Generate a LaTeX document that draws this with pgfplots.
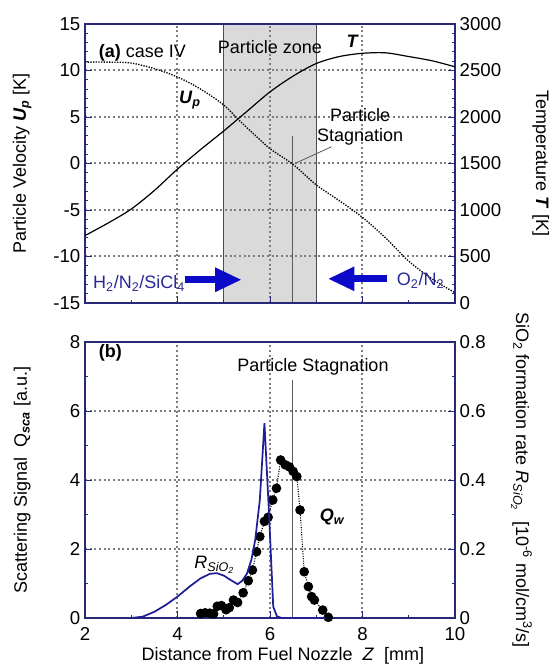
\documentclass[border=0pt]{standalone}
\usepackage{fontspec}
\setmainfont{Liberation Sans}
\usepackage{pgfplots}
\pgfplotsset{compat=1.18}
\usetikzlibrary{arrows.meta}

\definecolor{axisnavy}{RGB}{40,40,120}
\definecolor{curveblue}{RGB}{30,30,150}
\definecolor{arrowblue}{RGB}{10,10,200}
\definecolor{textnavy}{RGB}{40,40,150}
\definecolor{zonegray}{RGB}{218,218,218}
\definecolor{gridgray}{RGB}{125,125,125}

\pgfplotsset{
  base/.style={
    width=277.5pt, scale only axis, xmin=2, xmax=10,
    axis line style={axisnavy, line width=0.9pt},
    tick style={axisnavy, line width=0.6pt},
    tick align=inside, major tick length=5pt, minor tick length=2.5pt,
    /pgf/number format/assume math mode=true,
    /pgf/number format/1000 sep={},
    scaled y ticks=false,
    tick label style={font=\fontsize{14}{16}\selectfont},
    label style={font=\fontsize{13.5}{16}\selectfont},
  },
}
\tikzset{gridline/.style={gridgray, line width=1.5pt, dash pattern=on 1.5pt off 2pt}}

% top panel data
\pgfplotstableread{
x U
2.0 10.9
2.5 10.9
3.0 10.8
3.5 10.2
4.0 9.3
4.5 8.0
5.0 6.3
5.3 4.8
5.6 3.4
6.0 1.6
6.5 -0.1
7.0 -2.3
7.5 -4.0
8.0 -5.8
8.5 -8.0
9.0 -10.5
9.5 -12.4
10.0 -13.9
}\uptable

\pgfplotstableread{
x T
2.0 725
2.5 860
3.0 1010
3.5 1210
4.0 1440
4.5 1650
5.0 1850
5.5 2060
6.0 2270
6.5 2440
7.0 2575
7.5 2650
8.0 2685
8.5 2690
9.0 2650
9.5 2605
10.0 2540
}\ttable

\begin{document}
\begin{tikzpicture}
\path[use as bounding box] (-63.75pt,-35.25pt) rectangle (348.75pt,463.5pt);

% ---------- (a) left axis: particle velocity
\begin{axis}[base, at={(0,236.25pt)}, anchor=south west, height=209.25pt,
  ymin=-15, ymax=15, ytick={-15,-10,...,15}, minor y tick num=4,
  xtick={2,4,...,10}, minor x tick num=1, xticklabels={},
  xtick pos=bottom, ytick pos=left, axis on top,
  ylabel={Particle Velocity \textbf{\textit{U}\textsubscript{\textit{p}}} [K]},
  ylabel style={at={(axis description cs:-0.17,0.5)}, anchor=center},
]
\filldraw[fill=zonegray, draw=gray!60!black, line width=0.9pt]
  (axis cs:5,-15) rectangle (axis cs:7,15);
\draw[gridline] (axis cs:4,-15) -- (axis cs:4,15);
\draw[gridline] (axis cs:6,-15) -- (axis cs:6,15);
\draw[gridline] (axis cs:8,-15) -- (axis cs:8,15);
\draw[gridline] (axis cs:2,-10) -- (axis cs:10,-10);
\draw[gridline] (axis cs:2,-5) -- (axis cs:10,-5);
\draw[gridline] (axis cs:2,0) -- (axis cs:10,0);
\draw[gridline] (axis cs:2,5) -- (axis cs:10,5);
\draw[gridline] (axis cs:2,10) -- (axis cs:10,10);
\draw[gray!70!black, line width=0.8pt] (axis cs:6.48,-15) -- (axis cs:6.48,3);
\draw[gray!70!black, line width=0.6pt] (axis cs:6.54,0) -- (axis cs:7.33,1.8);
\addplot[black, densely dotted, line width=1pt, smooth] table[x=x, y=U] {\uptable};
\node[anchor=west, font=\fontsize{13.5}{16}\selectfont] at (axis cs:2.2,11.9) {\textbf{(a)} case IV};
\node[font=\fontsize{13.5}{16}\selectfont] at (axis cs:6,12.5) {Particle zone};
\node[font=\fontsize{13.5}{16}\selectfont] at (axis cs:4.27,6.8) {\textbf{\textit{U}\textsubscript{\textit{p}}}};
\node[font=\fontsize{13.5}{16}\selectfont] at (axis cs:7.79,13.1) {\textbf{\textit{T}}};
\node[align=center, font=\fontsize{13.5}{15}\selectfont, inner sep=0pt] at (axis cs:7.95,3.95) {Particle\\Stagnation};
\draw[arrowblue, line width=5.5pt, -{Triangle[length=20pt, width=17pt]}]
  (axis cs:4.16,-12.5) -- (axis cs:5.39,-12.5);
\draw[arrowblue, line width=5.5pt, -{Triangle[length=20pt, width=17pt]}]
  (axis cs:8.52,-12.4) -- (axis cs:7.25,-12.4);
\node[anchor=west, textnavy, font=\fontsize{13.5}{16}\selectfont, inner sep=0pt] at (axis cs:2.17,-12.9)
  {H\textsubscript{2}/N\textsubscript{2}/SiCl\textsubscript{4}};
\node[anchor=west, textnavy, font=\fontsize{13.5}{16}\selectfont, inner sep=0pt] at (axis cs:8.74,-12.6)
  {O\textsubscript{2}/N\textsubscript{2}};
\end{axis}

% ---------- (a) right axis: temperature
\begin{axis}[base, at={(0,236.25pt)}, anchor=south west, height=209.25pt,
  axis y line*=right, axis x line=none,
  ymin=0, ymax=3000, ytick={0,500,...,3000}, minor y tick num=4,
  ylabel={Temperature \textbf{\textit{T}} [K]},
  ylabel style={at={(axis description cs:1.232,0.5)}, anchor=center, rotate=180},
]
\addplot[black, line width=0.9pt, smooth] table[x=x, y=T] {\ttable};
\end{axis}

% ---------- (b) left axis: scattering signal
\begin{axis}[base, at={(0,0)}, anchor=south west, height=207pt,
  ymin=0, ymax=8, ytick={0,2,...,8}, minor y tick num=1,
  xtick={2,4,...,10}, minor x tick num=1,
  xticklabel style={yshift=-3.5pt},
  xtick pos=bottom, ytick pos=left, axis on top,
  xlabel={Distance from Fuel Nozzle \ \textit{Z} \ [mm]},
  xlabel style={at={(axis description cs:0.535,-0.138)}, anchor=center},
  ylabel={Scattering Signal \ Q\textsubscript{\textbf{\textit{sca}}} [a.u.]},
  ylabel style={at={(axis description cs:-0.17,0.5)}, anchor=center},
]
\draw[gridline] (axis cs:4,0) -- (axis cs:4,8);
\draw[gridline] (axis cs:6,0) -- (axis cs:6,8);
\draw[gridline] (axis cs:8,0) -- (axis cs:8,8);
\draw[gridline] (axis cs:2,2) -- (axis cs:10,2);
\draw[gridline] (axis cs:2,4) -- (axis cs:10,4);
\draw[gridline] (axis cs:2,6) -- (axis cs:10,6);
\draw[gray!70!black, line width=0.8pt] (axis cs:6.48,0) -- (axis cs:6.48,6.9);
\addplot[black, densely dotted, line width=0.8pt, mark=*, mark size=3.2pt, mark options={solid}]
coordinates {
(4.50,0.13) (4.60,0.15) (4.70,0.14) (4.78,0.12) (4.86,0.34) (4.95,0.36)
(5.05,0.24) (5.12,0.30) (5.21,0.52) (5.30,0.45) (5.42,0.73) (5.53,1.08)
(5.62,1.39) (5.71,1.92) (5.78,2.36) (5.88,2.80) (5.96,2.92) (6.06,3.42)
(6.14,3.76) (6.23,4.58) (6.33,4.44) (6.42,4.38) (6.50,4.25) (6.58,4.10)
(6.65,3.13) (6.74,1.34) (6.83,0.91) (6.90,0.62) (6.96,0.52) (7.14,0.23)
(7.26,0.02)
};
\node[anchor=west, font=\fontsize{13.5}{16}\selectfont] at (axis cs:2.2,7.68) {\textbf{(b)}};
\node[font=\fontsize{13.5}{16}\selectfont] at (axis cs:6.93,7.28) {Particle Stagnation};
\node[font=\fontsize{13.5}{16}\selectfont] at (axis cs:4.8,1.55)
  {\textit{R}\textsubscript{\textit{SiO\textsubscript{2}}}};
\node[font=\fontsize{13.5}{16}\selectfont] at (axis cs:7.35,2.93)
  {\textbf{\textit{Q}\textsubscript{\textit{w}}}};
\end{axis}

% ---------- (b) right axis: SiO2 formation rate
\begin{axis}[base, at={(0,0)}, anchor=south west, height=207pt,
  axis y line*=right, axis x line=none,
  ymin=0, ymax=0.8, ytick={0,0.2,0.4,0.6,0.8}, minor y tick num=1,
  ylabel={SiO\textsubscript{2} formation rate \textit{R}\textsubscript{\textit{SiO\textsubscript{2}}} \ [10\textsuperscript{-6} mol/cm\textsuperscript{3}/s]},
  ylabel style={at={(axis description cs:1.18,0.5)}, anchor=center, rotate=180},
]
\addplot[curveblue, line width=1.3pt] coordinates {
(3.0,0) (3.25,0.004) (3.5,0.018) (3.75,0.038) (4.0,0.062) (4.25,0.09)
(4.5,0.115) (4.7,0.128) (4.85,0.13) (5.0,0.123) (5.15,0.11) (5.3,0.098)
(5.4,0.108) (5.5,0.128) (5.6,0.17) (5.68,0.226) (5.78,0.342) (5.88,0.565)
(5.98,0.30) (6.07,0.033) (6.15,0.005) (6.25,0) (7.2,0)
};
\end{axis}
\end{tikzpicture}
\end{document}
